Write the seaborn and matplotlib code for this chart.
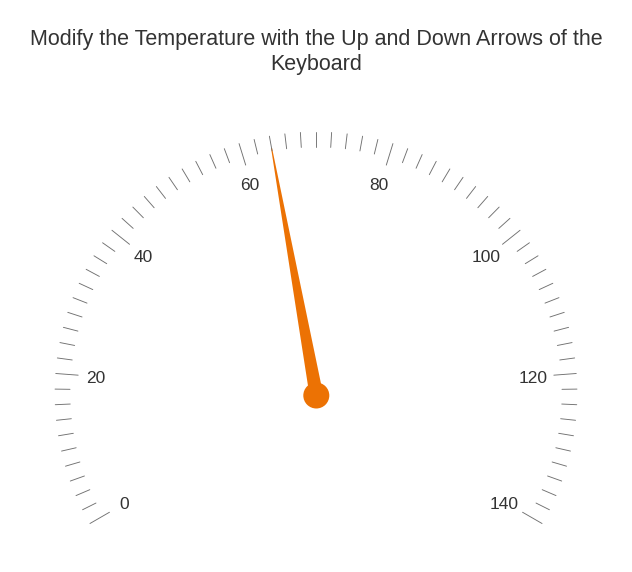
import numpy as np
import pandas as pd
import matplotlib
matplotlib.use("Agg")
import matplotlib.pyplot as plt
import seaborn as sns
from matplotlib.patches import Polygon, Circle

# ---- data ----
title_text = "Modify the Temperature with the Up and Down Arrows of the\nKeyboard"
scale_min = 0
scale_max = 140
minor_ticks = list(range(0, 141, 2))
major_ticks = [0, 20, 40, 60, 80, 100, 120, 140]
major_labels = ["0", "20", "40", "60", "80", "100", "120", "140"]
needle_value = 64

# ---- style ----
sns.set_theme(style="white")
plt.rcParams['font.family'] = ['Liberation Sans', 'DejaVu Sans']

W, H = 632, 572
fig = plt.figure(figsize=(W / 100, H / 100), dpi=100)
ax = fig.add_axes([0, 0, 1, 1])
ax.set_xlim(0, W)
ax.set_ylim(H, 0)
ax.set_aspect('equal')
ax.axis('off')

cx, cy = 316.0, 393.0
start_deg, end_deg = -120.0, 120.0
r_outer = 261.0
r_major_in = 238.5
r_minor_in = 246.0
r_label = 219.5
label_dx = -1.5
label_dy = 1.8


def ang(v):
    return np.deg2rad(start_deg + (v - scale_min) / (scale_max - scale_min) * (end_deg - start_deg))


def pt(v, r):
    a = ang(v)
    return cx + r * np.sin(a), cy - r * np.cos(a)


# tick segments as a long dataframe
rows = []
for i, v in enumerate(minor_ticks):
    rin = r_major_in if v in major_ticks else r_minor_in
    x0, y0 = pt(v, rin)
    x1, y1 = pt(v, r_outer)
    rows.append(dict(tick=i, x=x0, y=y0))
    rows.append(dict(tick=i, x=x1, y=y1))
df = pd.DataFrame(rows)
sns.lineplot(data=df, x="x", y="y", units="tick", estimator=None, sort=False,
             color="#707070", lw=0.65, ax=ax, legend=False)

for v, lab in zip(major_ticks, major_labels):
    x, y = pt(v, r_label)
    ax.text(x + label_dx, y + label_dy, lab, ha="center", va="center",
            fontsize=12.5, color="#333333")

# needle
a = ang(needle_value)
ux, uy = np.sin(a), -np.cos(a)
px, py = -uy, ux
tip_r = 249.0
base_hw, tip_hw = 6.8, 0.5
tx, ty = cx + tip_r * ux, cy + tip_r * uy
needle_color = "#ec7204"
poly = Polygon([(cx + base_hw * px, cy + base_hw * py),
                (tx + tip_hw * px, ty + tip_hw * py),
                (tx - tip_hw * px, ty - tip_hw * py),
                (cx - base_hw * px, cy - base_hw * py)],
               closed=True, facecolor=needle_color, edgecolor="none")
ax.add_patch(poly)
ax.add_patch(Circle((cx + 0.3, cy + 2.5), 13, facecolor=needle_color, edgecolor="none"))

ax.text(W / 2, 52, title_text, ha="center", va="center", fontsize=15.5,
        color="#333333", linespacing=1.3)

fig.savefig("out.png", dpi=100)
